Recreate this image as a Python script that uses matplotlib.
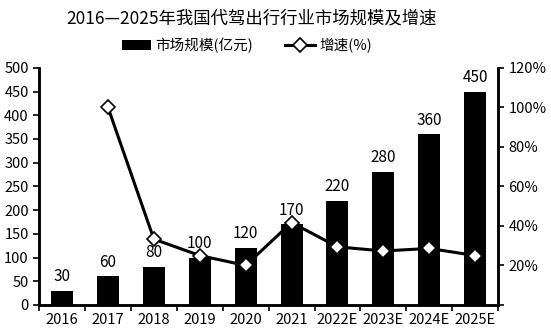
import matplotlib.pyplot as plt
import numpy as np

plt.rcParams['font.family'] = ['Noto Sans CJK SC', 'DejaVu Sans']

years = ['2016', '2017', '2018', '2019', '2020', '2021', '2022E', '2023E', '2024E', '2025E']
market_size = [30, 60, 80, 100, 120, 170, 220, 280, 360, 450]  # 亿元
growth = [None, 100.0, 33.3, 25.0, 20.0, 41.7, 29.4, 27.3, 28.6, 25.0]  # %

x = np.arange(len(years))

fig = plt.figure(figsize=(5.51, 3.34), dpi=100)
ax = fig.add_axes([0.071, 0.087, 0.833, 0.71])
ax2 = ax.twinx()

bars = ax.bar(x, market_size, width=0.48, color='black', label='市场规模(亿元)')
for xi, v in zip(x, market_size):
    ax.text(xi, v + 12, str(v), ha='center', va='bottom', fontsize=11)

gx = [xi for xi, g in zip(x, growth) if g is not None]
gy = [g for g in growth if g is not None]
ax2.plot(gx, gy, color='black', lw=2.2, marker='D', markersize=7.5,
         markerfacecolor='white', markeredgecolor='black', markeredgewidth=1.2,
         label='增速(%)')

ax.set_xlim(-0.5, len(years) - 0.5)
ax.set_ylim(0, 500)
ax.set_yticks(range(0, 501, 50))
ax2.set_ylim(0, 120)
ax2.set_yticks(range(0, 121, 20))
ax2.set_yticklabels([''] + [f'{t}%' for t in range(20, 121, 20)])

ax.set_xticks(x)
ax.set_xticklabels(years)
ax.set_xticks(np.arange(-0.5, len(years), 1), minor=True)
ax.tick_params(axis='x', which='major', length=0, labelsize=10.5, pad=6)
ax.tick_params(axis='x', which='minor', length=4, width=1.2, direction='out')
ax.tick_params(axis='y', labelsize=10.5, length=4, width=1.2)
ax2.tick_params(axis='y', labelsize=10.5, length=4, width=1.2)

for a in (ax, ax2):
    a.spines['top'].set_visible(False)
    for s in ('left', 'right', 'bottom'):
        a.spines[s].set_linewidth(1.8)

fig.suptitle('2016—2025年我国代驾出行行业市场规模及增速', fontsize=12.5, x=0.456, y=0.972)

h1, l1 = ax.get_legend_handles_labels()
h2, l2 = ax2.get_legend_handles_labels()
fig.legend(h1 + h2, l1 + l2, loc='center', bbox_to_anchor=(0.448, 0.865), ncol=2,
           frameon=False, fontsize=10.5, handlelength=2.0, handletextpad=0.3,
           columnspacing=2.2)

fig.savefig('out.png', dpi=100)
